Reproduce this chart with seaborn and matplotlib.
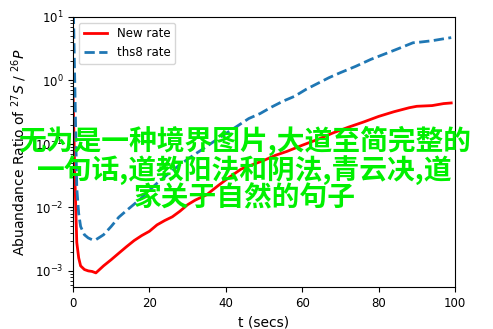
import numpy as np
import pandas as pd
import matplotlib
matplotlib.use("Agg")
import matplotlib.pyplot as plt
import seaborn as sns

# ---- data ----
t_new = [0, 0.5, 1, 1.5, 2, 3, 4, 5, 6, 8, 10, 12, 14, 16, 18, 20, 22, 24, 26, 28,
         30, 32, 35, 38, 41, 44, 47, 50, 53, 56, 60, 64, 68, 72, 76, 80, 84, 88,
         90, 94, 97, 99]
new_rate = [0.7, 0.03, 0.0028, 0.0016, 0.0012, 0.00105, 0.001, 0.00098, 0.00093,
            0.0012, 0.0015, 0.0019, 0.0024, 0.003, 0.0036, 0.0042, 0.0053, 0.0062,
            0.0071, 0.0087, 0.011, 0.013, 0.0158, 0.022, 0.030, 0.040, 0.047,
            0.055, 0.066, 0.076, 0.095, 0.117, 0.148, 0.182, 0.22, 0.27, 0.32,
            0.37, 0.39, 0.40, 0.43, 0.44]

t_ths8 = [0, 1, 1.5, 2, 3, 4, 5, 6, 8, 10, 12, 14, 16, 18, 20, 22, 25, 28, 31, 34,
          37, 40, 43, 46, 49, 52, 55, 58, 61, 64, 67, 70, 74, 78, 83, 86, 89, 91,
          94, 97, 99]
ths8_rate = [30, 0.02, 0.008, 0.005, 0.0037, 0.0033, 0.0031, 0.0031, 0.0037, 0.005,
             0.007, 0.0089, 0.0112, 0.0142, 0.0186, 0.024, 0.034, 0.047, 0.063,
             0.083, 0.11, 0.145, 0.19, 0.25, 0.30, 0.38, 0.47, 0.56, 0.72, 0.89,
             1.1, 1.32, 1.66, 2.14, 2.8, 3.3, 3.9, 4.0, 4.2, 4.5, 4.7]

series_labels = ["New rate", "ths8 rate"]
x_ticks = [0, 20, 40, 60, 80, 100]
overlay_lines = ["无为是一种境界图片,大道至简完整的",
                 "一句话,道教阳法和阴法,青云决,道",
                 "家关于自然的句子"]

plt.rcParams['font.family'] = ['DejaVu Sans']
plt.rcParams['font.size'] = 8.5

fig = plt.figure(figsize=(4.93, 3.29), dpi=100)
ax = fig.add_axes([0.148, 0.128, 0.775, 0.821])

df_new = pd.DataFrame({"t": t_new, "rate": new_rate})
df_ths = pd.DataFrame({"t": t_ths8, "rate": ths8_rate})

sns.lineplot(data=df_new, x="t", y="rate", ax=ax, color="red", linewidth=2,
             label=series_labels[0])
sns.lineplot(data=df_ths, x="t", y="rate", ax=ax, color="#1f77b4", linewidth=2,
             linestyle="--", label=series_labels[1])

ax.set_yscale("log")
ax.set_ylim(5.6e-4, 10)
ax.set_xlim(0, 100)
ax.set_xticks(x_ticks)
ax.set_xlabel("t (secs)", fontsize=10)
ax.set_ylabel("Abuandance Ratio of $^{27}S$ / $^{26}P$", fontsize=10)
ax.legend(loc="upper left")

ys = [0.572, 0.483, 0.397]
for line, y in zip(overlay_lines, ys):
    fig.text(0.497, y, line, ha="center", va="center", color="#00f000",
             fontsize=20, fontweight="bold",
             family=["Noto Sans CJK SC", "DejaVu Sans"])

fig.savefig("out.png", dpi=100)
